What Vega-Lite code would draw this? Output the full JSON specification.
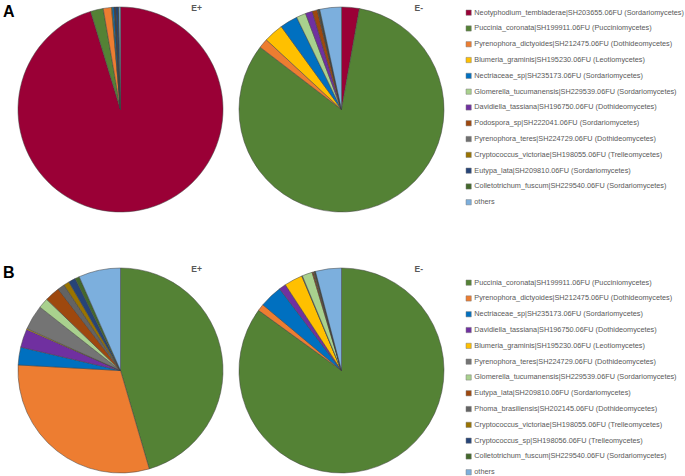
{
  "$schema": "https://vega.github.io/schema/vega-lite/v6.json",
  "padding": {"left": 2, "top": 3, "right": 0, "bottom": 0},
  "background": "white",
  "spacing": 51,
  "config": {
    "view": {"stroke": null},
    "font": "Liberation Sans",
    "legend": {
      "symbolType": "square",
      "symbolSize": 28,
      "symbolStrokeWidth": 0.5,
      "symbolStrokeColor": "#7f7f7f",
      "labelFontSize": 7.3,
      "labelColor": "#595959",
      "labelLimit": 300,
      "labelOffset": 2,
      "rowPadding": 6.8,
      "titlePadding": 0
    },
    "title": {"color": "#595959", "fontSize": 8.5, "fontWeight": "bold"},
    "concat": {"spacing": 14}
  },
  "data": {"values": [
    {"p":"A","g":"E+","t":"Neotyphodium_tembladerae|SH203655.06FU (Sordariomycetes)","v":95.3,"i":1},
    {"p":"A","g":"E+","t":"Puccinia_coronata|SH199911.06FU (Pucciniomycetes)","v":2.0,"i":2},
    {"p":"A","g":"E+","t":"Pyrenophora_dictyoides|SH212475.06FU (Dothideomycetes)","v":1.3,"i":3},
    {"p":"A","g":"E+","t":"Blumeria_graminis|SH195230.06FU (Leotiomycetes)","v":0.1,"i":4},
    {"p":"A","g":"E+","t":"Nectriaceae_sp|SH235173.06FU (Sordariomycetes)","v":0.3,"i":5},
    {"p":"A","g":"E+","t":"Glomerella_tucumanensis|SH229539.06FU (Sordariomycetes)","v":0.05,"i":6},
    {"p":"A","g":"E+","t":"Davidiella_tassiana|SH196750.06FU (Dothideomycetes)","v":0.05,"i":7},
    {"p":"A","g":"E+","t":"Podospora_sp|SH222041.06FU (Sordariomycetes)","v":0.05,"i":8},
    {"p":"A","g":"E+","t":"Pyrenophora_teres|SH224729.06FU (Dothideomycetes)","v":0.05,"i":9},
    {"p":"A","g":"E+","t":"Cryptococcus_victoriae|SH198055.06FU (Trelleomycetes)","v":0.05,"i":10},
    {"p":"A","g":"E+","t":"Eutypa_lata|SH209810.06FU (Sordariomycetes)","v":0.4,"i":11},
    {"p":"A","g":"E+","t":"Colletotrichum_fuscum|SH229540.06FU (Sordariomycetes)","v":0.1,"i":12},
    {"p":"A","g":"E+","t":"others","v":0.25,"i":13},
    {"p":"A","g":"E-","t":"Neotyphodium_tembladerae|SH203655.06FU (Sordariomycetes)","v":2.8,"i":1},
    {"p":"A","g":"E-","t":"Puccinia_coronata|SH199911.06FU (Pucciniomycetes)","v":82.6,"i":2},
    {"p":"A","g":"E-","t":"Pyrenophora_dictyoides|SH212475.06FU (Dothideomycetes)","v":1.5,"i":3},
    {"p":"A","g":"E-","t":"Blumeria_graminis|SH195230.06FU (Leotiomycetes)","v":3.1,"i":4},
    {"p":"A","g":"E-","t":"Nectriaceae_sp|SH235173.06FU (Sordariomycetes)","v":2.8,"i":5},
    {"p":"A","g":"E-","t":"Glomerella_tucumanensis|SH229539.06FU (Sordariomycetes)","v":1.5,"i":6},
    {"p":"A","g":"E-","t":"Davidiella_tassiana|SH196750.06FU (Dothideomycetes)","v":1.1,"i":7},
    {"p":"A","g":"E-","t":"Podospora_sp|SH222041.06FU (Sordariomycetes)","v":0.8,"i":8},
    {"p":"A","g":"E-","t":"Pyrenophora_teres|SH224729.06FU (Dothideomycetes)","v":0.1,"i":9},
    {"p":"A","g":"E-","t":"Cryptococcus_victoriae|SH198055.06FU (Trelleomycetes)","v":0.1,"i":10},
    {"p":"A","g":"E-","t":"Eutypa_lata|SH209810.06FU (Sordariomycetes)","v":0.1,"i":11},
    {"p":"A","g":"E-","t":"Colletotrichum_fuscum|SH229540.06FU (Sordariomycetes)","v":0.1,"i":12},
    {"p":"A","g":"E-","t":"others","v":3.4,"i":13},
    {"p":"B","g":"E+","t":"Puccinia_coronata|SH199911.06FU (Pucciniomycetes)","v":45.5,"i":1},
    {"p":"B","g":"E+","t":"Pyrenophora_dictyoides|SH212475.06FU (Dothideomycetes)","v":30.4,"i":2},
    {"p":"B","g":"E+","t":"Nectriaceae_sp|SH235173.06FU (Sordariomycetes)","v":2.8,"i":3},
    {"p":"B","g":"E+","t":"Davidiella_tassiana|SH196750.06FU (Dothideomycetes)","v":2.9,"i":4},
    {"p":"B","g":"E+","t":"Blumeria_graminis|SH195230.06FU (Leotiomycetes)","v":0.15,"i":5},
    {"p":"B","g":"E+","t":"Pyrenophora_teres|SH224729.06FU (Dothideomycetes)","v":3.9,"i":6},
    {"p":"B","g":"E+","t":"Glomerella_tucumanensis|SH229539.06FU (Sordariomycetes)","v":1.6,"i":7},
    {"p":"B","g":"E+","t":"Eutypa_lata|SH209810.06FU (Sordariomycetes)","v":2.4,"i":8},
    {"p":"B","g":"E+","t":"Phoma_brasiliensis|SH202145.06FU (Dothideomycetes)","v":1.1,"i":9},
    {"p":"B","g":"E+","t":"Cryptococcus_victoriae|SH198055.06FU (Trelleomycetes)","v":0.9,"i":10},
    {"p":"B","g":"E+","t":"Cryptococcus_sp|SH198056.06FU (Trelleomycetes)","v":1.1,"i":11},
    {"p":"B","g":"E+","t":"Colletotrichum_fuscum|SH229540.06FU (Sordariomycetes)","v":0.7,"i":12},
    {"p":"B","g":"E+","t":"others","v":6.6,"i":13},
    {"p":"B","g":"E-","t":"Puccinia_coronata|SH199911.06FU (Pucciniomycetes)","v":85.2,"i":1},
    {"p":"B","g":"E-","t":"Pyrenophora_dictyoides|SH212475.06FU (Dothideomycetes)","v":1.1,"i":2},
    {"p":"B","g":"E-","t":"Nectriaceae_sp|SH235173.06FU (Sordariomycetes)","v":3.6,"i":3},
    {"p":"B","g":"E-","t":"Davidiella_tassiana|SH196750.06FU (Dothideomycetes)","v":1.1,"i":4},
    {"p":"B","g":"E-","t":"Blumeria_graminis|SH195230.06FU (Leotiomycetes)","v":2.9,"i":5},
    {"p":"B","g":"E-","t":"Pyrenophora_teres|SH224729.06FU (Dothideomycetes)","v":0.1,"i":6},
    {"p":"B","g":"E-","t":"Glomerella_tucumanensis|SH229539.06FU (Sordariomycetes)","v":1.6,"i":7},
    {"p":"B","g":"E-","t":"Eutypa_lata|SH209810.06FU (Sordariomycetes)","v":0.2,"i":8},
    {"p":"B","g":"E-","t":"Phoma_brasiliensis|SH202145.06FU (Dothideomycetes)","v":0.15,"i":9},
    {"p":"B","g":"E-","t":"Cryptococcus_victoriae|SH198055.06FU (Trelleomycetes)","v":0.1,"i":10},
    {"p":"B","g":"E-","t":"Cryptococcus_sp|SH198056.06FU (Trelleomycetes)","v":0.05,"i":11},
    {"p":"B","g":"E-","t":"Colletotrichum_fuscum|SH229540.06FU (Sordariomycetes)","v":0.05,"i":12},
    {"p":"B","g":"E-","t":"others","v":4.1,"i":13}
  ]},
  "vconcat": [
    {
      "title": {"text": "A", "orient": "left", "anchor": "end", "angle": 0, "fontSize": 16, "color": "#000000", "offset": -9, "baseline": "top"},
      "hconcat": [
        {
          "title": {"text": "E+", "anchor": "end", "offset": -6, "dx": -22},
          "width": 205, "height": 205,
          "transform": [{"filter": "datum.p == 'A' && datum.g == 'E+'"}],
          "mark": {"type": "arc", "outerRadius": 102.5, "stroke": "#404040", "strokeWidth": 0.5},
          "encoding": {
            "theta": {"field": "v", "type": "quantitative", "stack": true},
            "order": {"field": "i", "type": "quantitative"},
            "color": {"field": "t", "type": "nominal", "title": null,
              "scale": {"domain": ["Neotyphodium_tembladerae|SH203655.06FU (Sordariomycetes)","Puccinia_coronata|SH199911.06FU (Pucciniomycetes)","Pyrenophora_dictyoides|SH212475.06FU (Dothideomycetes)","Blumeria_graminis|SH195230.06FU (Leotiomycetes)","Nectriaceae_sp|SH235173.06FU (Sordariomycetes)","Glomerella_tucumanensis|SH229539.06FU (Sordariomycetes)","Davidiella_tassiana|SH196750.06FU (Dothideomycetes)","Podospora_sp|SH222041.06FU (Sordariomycetes)","Pyrenophora_teres|SH224729.06FU (Dothideomycetes)","Cryptococcus_victoriae|SH198055.06FU (Trelleomycetes)","Eutypa_lata|SH209810.06FU (Sordariomycetes)","Colletotrichum_fuscum|SH229540.06FU (Sordariomycetes)","others"],
                "range": ["#9A0036","#548235","#ED7D31","#FFC000","#0070C0","#A9D18E","#7030A0","#9E480E","#6F6F6F","#997300","#264478","#43682B","#7CAFDD"]},
              "legend": {"orient": "right", "offset": 18, "padding": 2}}
          }
        },
        {
          "width": 205, "height": 205,
          "title": {"text": "E-", "anchor": "end", "offset": -6, "dx": -22},
          "transform": [{"filter": "datum.p == 'A' && datum.g == 'E-'"}],
          "mark": {"type": "arc", "outerRadius": 102.5, "stroke": "#404040", "strokeWidth": 0.5},
          "encoding": {
            "theta": {"field": "v", "type": "quantitative", "stack": true},
            "order": {"field": "i", "type": "quantitative"},
            "color": {"field": "t", "type": "nominal", "title": null}
          }
        }
      ],
      "resolve": {"scale": {"color": "shared"}}
    },
    {
      "title": {"text": "B", "orient": "left", "anchor": "end", "angle": 0, "fontSize": 16, "color": "#000000", "offset": -9, "baseline": "top"},
      "hconcat": [
        {
          "title": {"text": "E+", "anchor": "end", "offset": -6, "dx": -22},
          "width": 205, "height": 205,
          "transform": [{"filter": "datum.p == 'B' && datum.g == 'E+'"}],
          "mark": {"type": "arc", "outerRadius": 102.5, "stroke": "#404040", "strokeWidth": 0.5},
          "encoding": {
            "theta": {"field": "v", "type": "quantitative", "stack": true},
            "order": {"field": "i", "type": "quantitative"},
            "color": {"field": "t", "type": "nominal", "title": null,
              "scale": {"domain": ["Puccinia_coronata|SH199911.06FU (Pucciniomycetes)","Pyrenophora_dictyoides|SH212475.06FU (Dothideomycetes)","Nectriaceae_sp|SH235173.06FU (Sordariomycetes)","Davidiella_tassiana|SH196750.06FU (Dothideomycetes)","Blumeria_graminis|SH195230.06FU (Leotiomycetes)","Pyrenophora_teres|SH224729.06FU (Dothideomycetes)","Glomerella_tucumanensis|SH229539.06FU (Sordariomycetes)","Eutypa_lata|SH209810.06FU (Sordariomycetes)","Phoma_brasiliensis|SH202145.06FU (Dothideomycetes)","Cryptococcus_victoriae|SH198055.06FU (Trelleomycetes)","Cryptococcus_sp|SH198056.06FU (Trelleomycetes)","Colletotrichum_fuscum|SH229540.06FU (Sordariomycetes)","others"],
                "range": ["#548235","#ED7D31","#0070C0","#7030A0","#FFC000","#747474","#A9D18E","#9E480E","#636363","#997300","#264478","#43682B","#7CAFDD"]},
              "legend": {"orient": "right", "offset": 9, "padding": 11}}
          }
        },
        {
          "width": 205, "height": 205,
          "title": {"text": "E-", "anchor": "end", "offset": -6, "dx": -22},
          "transform": [{"filter": "datum.p == 'B' && datum.g == 'E-'"}],
          "mark": {"type": "arc", "outerRadius": 102.5, "stroke": "#404040", "strokeWidth": 0.5},
          "encoding": {
            "theta": {"field": "v", "type": "quantitative", "stack": true},
            "order": {"field": "i", "type": "quantitative"},
            "color": {"field": "t", "type": "nominal", "title": null}
          }
        }
      ],
      "resolve": {"scale": {"color": "shared"}}
    }
  ],
  "resolve": {"scale": {"color": "independent"}}
}
